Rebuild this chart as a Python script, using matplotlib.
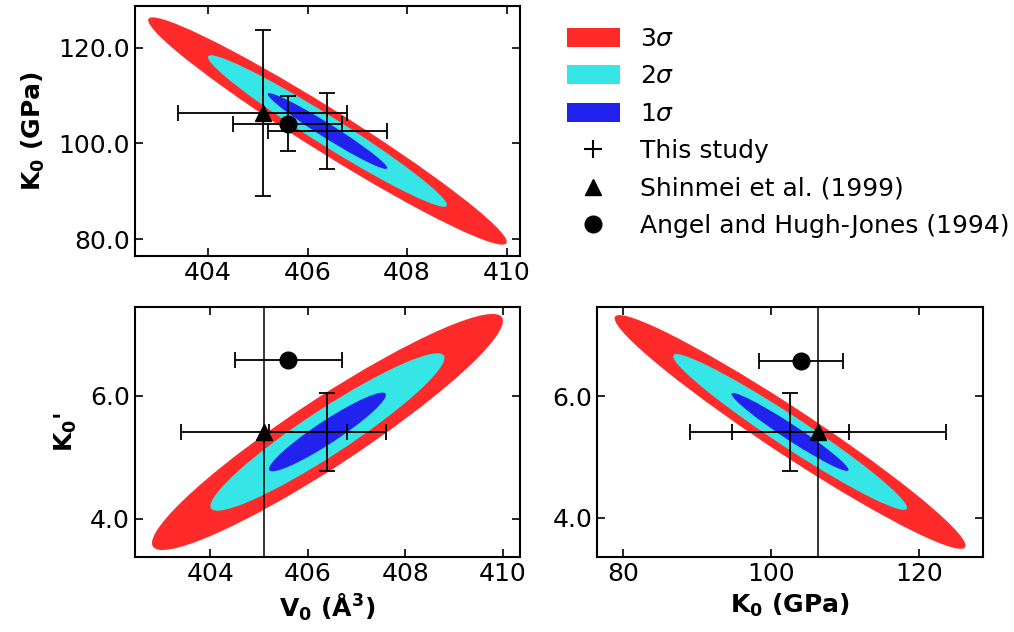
import numpy as np
import matplotlib
matplotlib.use("Agg")
import matplotlib.pyplot as plt
from matplotlib.patches import Ellipse, Patch
from matplotlib.lines import Line2D

plt.rcParams['font.family'] = ['DejaVu Sans']
plt.rcParams['font.size'] = 18
plt.rcParams['mathtext.fontset'] = 'dejavusans'

# EoS fit of this study: V0 (A^3), K0 (GPa), K0'
center = {'V0': 406.4, 'K0': 102.6, 'Kp': 5.41}
sigma = {'V0': 1.2, 'K0': 7.9, 'Kp': 0.64}
# correlation between parameter pairs
rho = {('V0', 'K0'): -0.975, ('V0', 'Kp'): 0.94, ('K0', 'Kp'): -0.972}

# literature values
shinmei = {'V0': 405.1, 'K0': 106.4, 'Kp': 5.41}
shinmei_err = {'V0': 1.7, 'K0': 17.3}
angel = {'V0': 405.6, 'K0': 104.1, 'Kp': 6.58}
angel_err = {'V0': 1.1, 'K0': 5.7}

levels = [3, 2, 1]
level_colors = ['#ff2b2b', '#36e6e6', '#2222ee']
level_labels = [r'$3\sigma$', r'$2\sigma$', r'$1\sigma$']

fig = plt.figure(figsize=(10.14, 6.32), dpi=100)
ax_vk = fig.add_axes([0.1331, 0.5949, 0.3797, 0.3956])
ax_vp = fig.add_axes([0.1331, 0.1187, 0.3797, 0.3956])
ax_kp = fig.add_axes([0.5888, 0.1187, 0.3807, 0.3956])


def draw_panel(ax, px, py):
    cov = np.array([[sigma[px] ** 2, rho[(px, py)] * sigma[px] * sigma[py]],
                    [rho[(px, py)] * sigma[px] * sigma[py], sigma[py] ** 2]])
    vals, vecs = np.linalg.eigh(cov)
    angle = np.degrees(np.arctan2(vecs[1, 1], vecs[0, 1]))
    for n, col in zip(levels, level_colors):
        e = Ellipse((center[px], center[py]), 2 * n * np.sqrt(vals[1]),
                    2 * n * np.sqrt(vals[0]), angle=angle, facecolor=col,
                    edgecolor='none', zorder=1)
        ax.add_patch(e)

    eb = dict(ecolor='black', elinewidth=1.3, capsize=6, capthick=1.3, zorder=3)
    # this study
    ax.errorbar(center[px], center[py], xerr=sigma[px], yerr=sigma[py], fmt='none', **eb)
    # Shinmei et al. (1999)
    if py in shinmei_err:
        ax.errorbar(shinmei[px], shinmei[py], xerr=shinmei_err[px], yerr=shinmei_err[py],
                    fmt='^', color='black', ms=12, **eb)
    else:
        ax.axvline(shinmei[px], color='black', lw=1.1, zorder=2)
        ax.errorbar(shinmei[px], shinmei[py], xerr=shinmei_err[px],
                    fmt='^', color='black', ms=12, **eb)
    # Angel and Hugh-Jones (1994)
    if py in angel_err:
        ax.errorbar(angel[px], angel[py], xerr=angel_err[px], yerr=angel_err[py],
                    fmt='o', color='black', ms=12, **eb)
    else:
        ax.errorbar(angel[px], angel[py], xerr=angel_err[px],
                    fmt='o', color='black', ms=12, **eb)

    ax.autoscale_view()
    ax.tick_params(direction='in', top=True, right=True, length=6, width=1.2)
    for s in ax.spines.values():
        s.set_linewidth(1.5)


draw_panel(ax_vk, 'V0', 'K0')
draw_panel(ax_vp, 'V0', 'Kp')
draw_panel(ax_kp, 'K0', 'Kp')

v_ticks = [404, 406, 408, 410]
k_ticks = [80, 100, 120]
kp_ticks = [4.0, 6.0]

ax_vk.set_xticks(v_ticks)
ax_vk.set_yticks(k_ticks)
ax_vk.set_yticklabels([f'{t:.1f}' for t in k_ticks])
ax_vk.set_ylabel(r'K$_\mathbf{0}$ (GPa)', fontweight='bold', labelpad=8)

ax_vp.set_xticks(v_ticks)
ax_vp.set_yticks(kp_ticks)
ax_vp.set_yticklabels([f'{t:.1f}' for t in kp_ticks])
ax_vp.set_xlabel(r'V$_\mathbf{0}$ (Å$^\mathbf{3}$)', fontweight='bold')
ax_vp.set_ylabel(r"K$_\mathbf{0}$'", fontweight='bold', labelpad=8)

ax_kp.set_xticks(k_ticks)
ax_kp.set_yticks(kp_ticks)
ax_kp.set_yticklabels([f'{t:.1f}' for t in kp_ticks])
ax_kp.set_xlabel(r'K$_\mathbf{0}$ (GPa)', fontweight='bold')

handles = [Patch(facecolor=c, edgecolor='none', label=l)
           for c, l in zip(level_colors, level_labels)]
handles += [
    Line2D([], [], marker='+', color='black', ls='none', ms=13, mew=1.5, label='This study'),
    Line2D([], [], marker='^', color='black', ls='none', ms=12, label='Shinmei et al. (1999)'),
    Line2D([], [], marker='o', color='black', ls='none', ms=12, label='Angel and Hugh-Jones (1994)'),
]
fig.legend(handles=handles, loc='upper left', bbox_to_anchor=(0.537, 0.993),
           frameon=False, fontsize=18, handlelength=2.1, handleheight=0.8,
           labelspacing=0.54)

fig.savefig('out.png', dpi=100)
